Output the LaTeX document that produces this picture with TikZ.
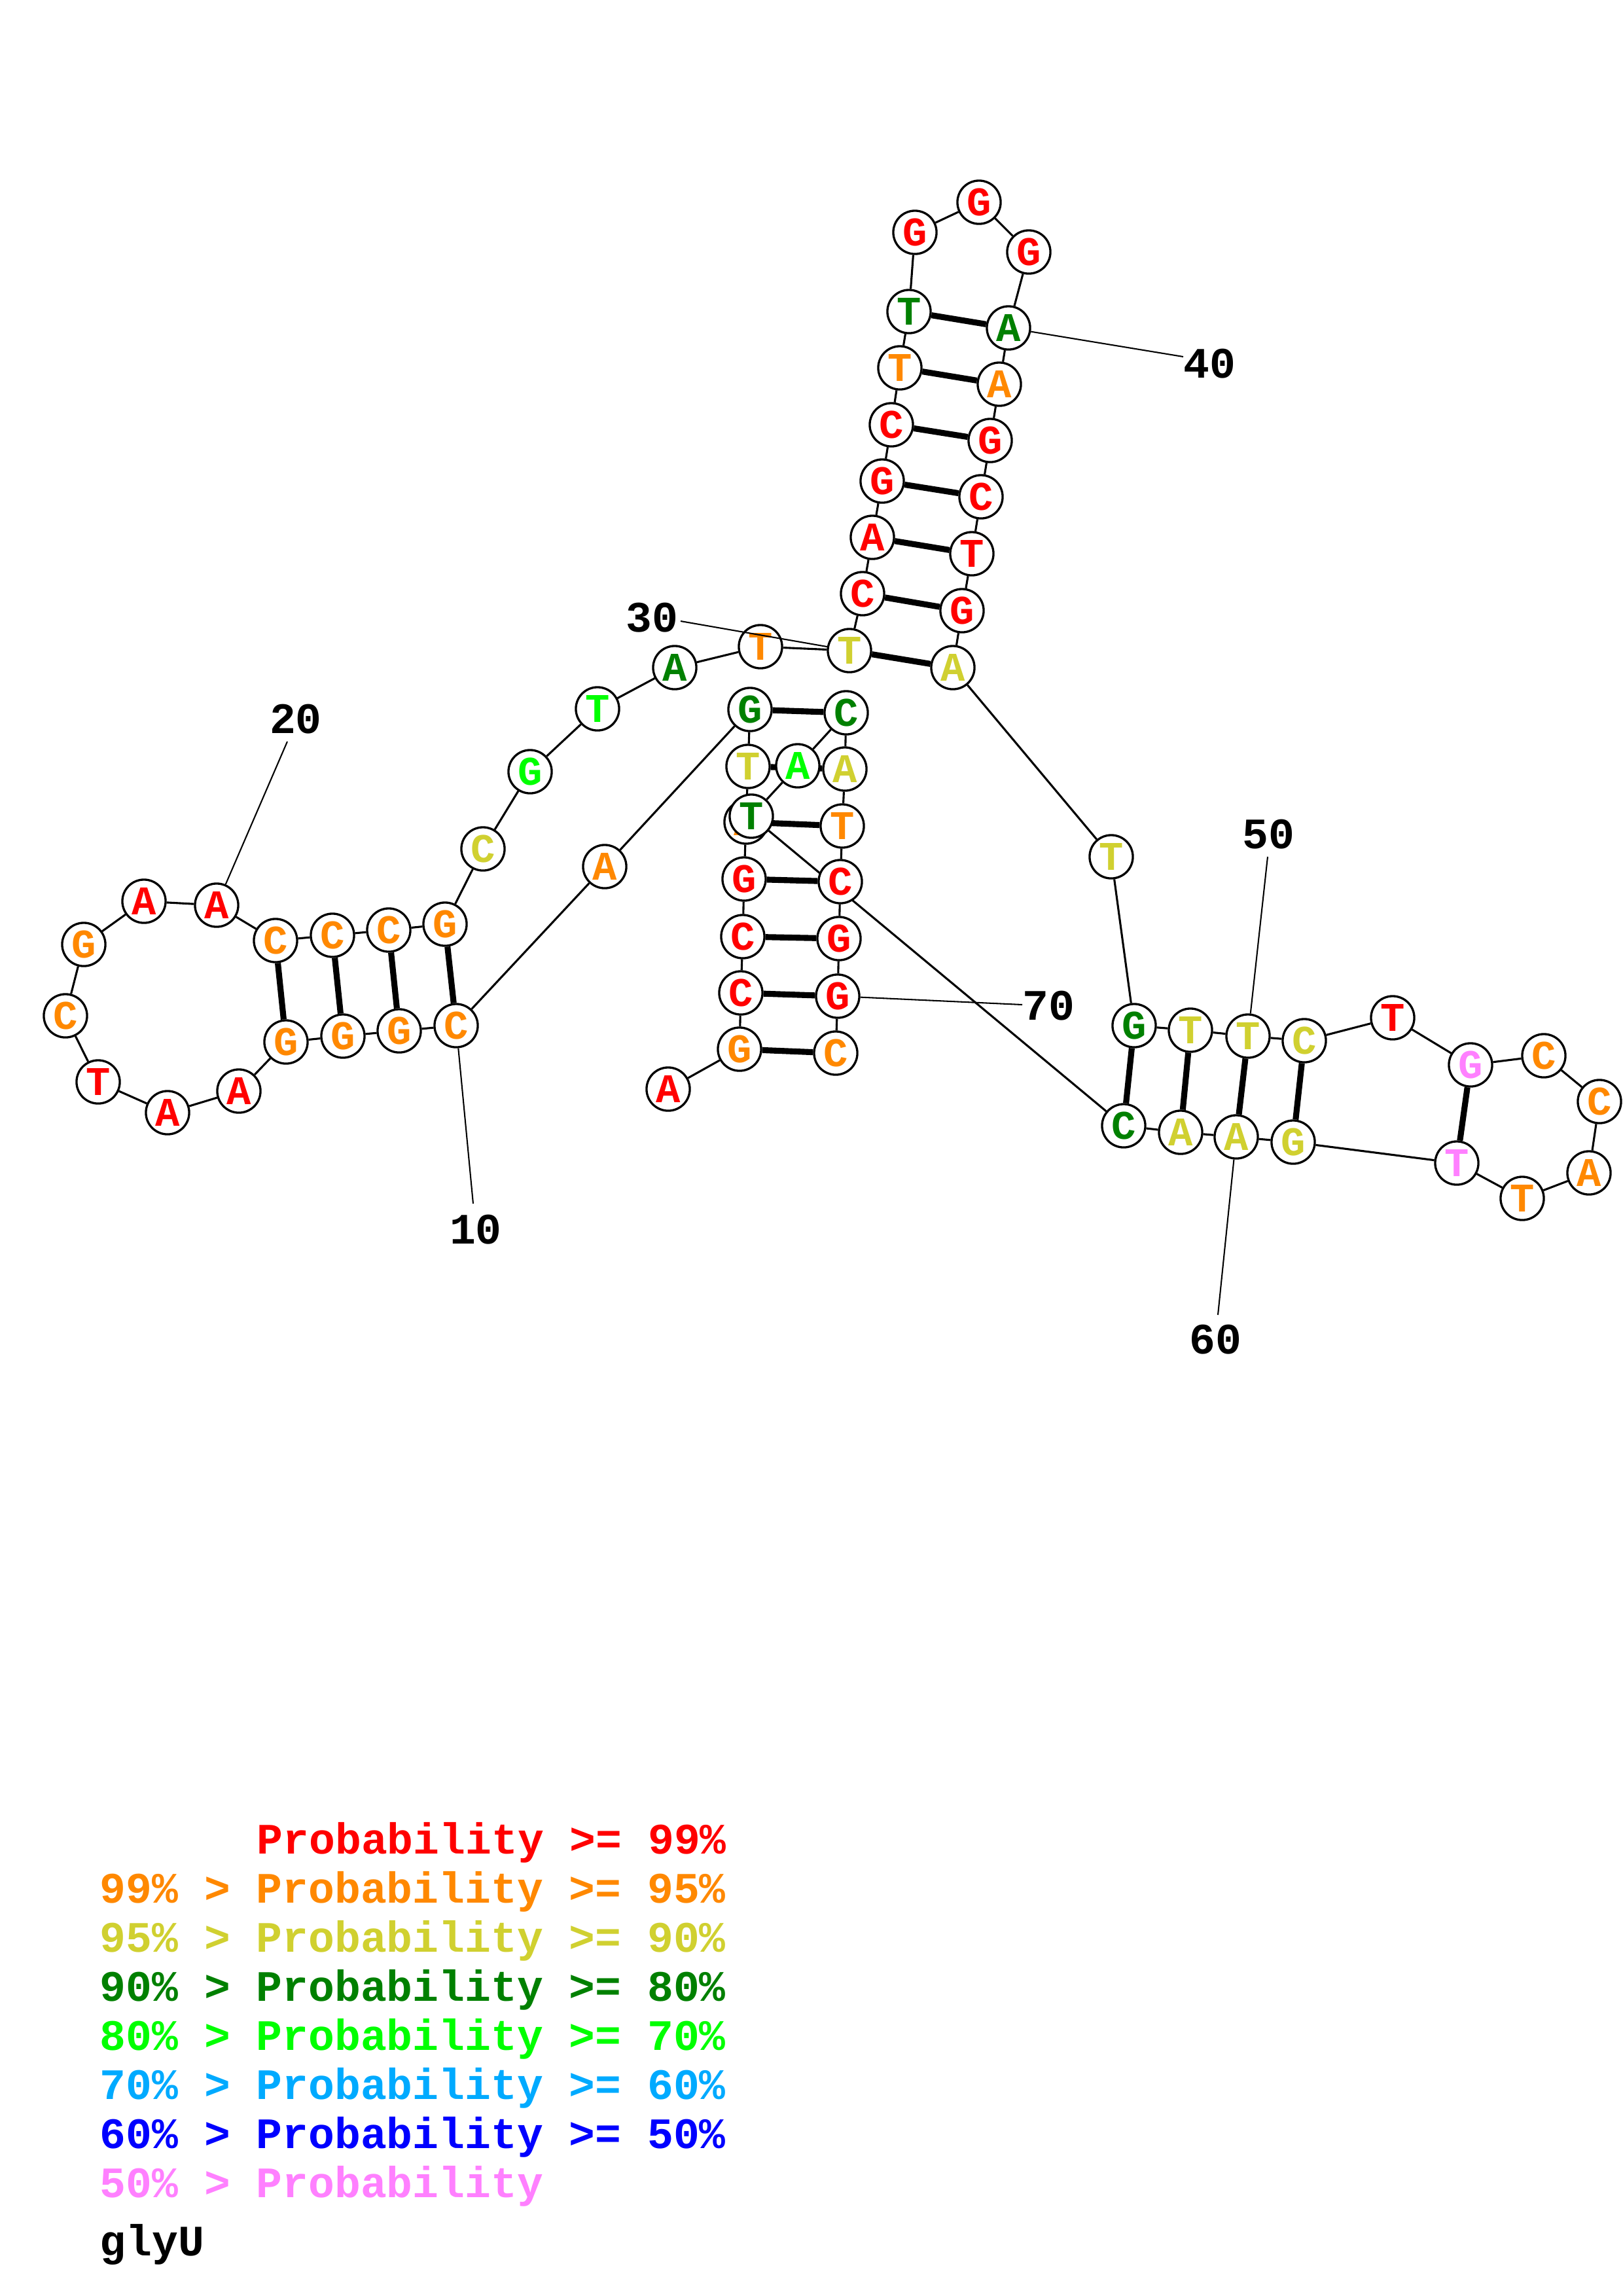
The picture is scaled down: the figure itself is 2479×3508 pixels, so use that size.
\documentclass[tikz,border=0pt]{standalone}
\usepackage{fontspec}
\setmonofont{Liberation Mono}
\usetikzlibrary{positioning, calc}
\pgfdeclarelayer{background}
\pgfsetlayers{background,main}
\definecolor{prob99}{RGB}{255,0,0}
\definecolor{prob95}{RGB}{255,136,0}
\definecolor{prob90}{RGB}{208,208,48}
\definecolor{prob80}{RGB}{0,128,0}
\definecolor{prob70}{RGB}{0,255,0}
\definecolor{prob60}{RGB}{0,170,255}
\definecolor{prob50}{RGB}{0,0,255}
\definecolor{problow}{RGB}{255,128,255}

\begin{document}
\begin{tikzpicture}[x=0.08471mm, y=-0.08471mm,
	nt/.style={circle, draw=black, line width=0.8pt, fill=white, minimum size=5.6mm, inner sep=0pt,
		font=\ttfamily\bfseries\fontsize{15}{15}\selectfont},
	bb/.style={line width=0.75pt},
	bp/.style={line width=2.2pt},
	tick/.style={line width=0.5pt},
	num/.style={font=\ttfamily\bfseries\fontsize{16}{16}\selectfont},
	legend/.style={anchor=base west, inner sep=0pt, font=\ttfamily\bfseries\fontsize{16}{16}\selectfont}]
	
	\useasboundingbox (0,0) rectangle (2479,3508);
	
	% nucleotides
	\foreach \i/\b/\c/\x/\y in {1/A/prob99/1021/1664, 2/G/prob95/1130/1603, 3/C/prob99/1132/1517,
		4/C/prob99/1135/1431, 5/G/prob99/1137/1343, 6/A/prob95/1140/1256, 7/T/prob90/1143/1171,
		8/G/prob80/1146/1084, 9/A/prob95/924/1324, 10/C/prob95/697/1567, 11/G/prob95/610/1575,
		12/G/prob95/524/1583, 13/G/prob95/437/1592, 14/A/prob99/365/1667, 15/A/prob99/256/1700,
		16/T/prob99/150/1653, 17/C/prob95/100/1552, 18/G/prob95/128/1443, 19/A/prob99/220/1377,
		20/A/prob99/331/1383, 21/C/prob95/421/1437, 22/C/prob95/508/1429, 23/C/prob95/594/1421,
		24/G/prob95/680/1412, 25/C/prob90/738/1297, 26/G/prob70/810/1179, 27/T/prob70/913/1083,
		28/A/prob80/1031/1020, 29/T/prob95/1162/988, 30/T/prob90/1298/994, 31/C/prob99/1318/907,
		32/A/prob99/1333/821, 33/G/prob99/1348/735, 34/C/prob99/1362/649, 35/T/prob95/1375/562,
		36/T/prob80/1389/476, 37/G/prob99/1398/355, 38/G/prob99/1496/309, 39/G/prob99/1572/385,
		40/A/prob80/1541/501, 41/A/prob95/1527/587, 42/G/prob99/1513/673, 43/C/prob99/1499/759,
		44/T/prob99/1485/846, 45/G/prob99/1470/933, 46/A/prob90/1456/1020, 47/T/prob90/1698/1309,
		48/G/prob80/1733/1567, 49/T/prob90/1819/1574, 50/T/prob90/1907/1583, 51/C/prob90/1993/1590,
		52/T/prob99/2128/1555, 53/G/problow/2247/1627, 54/C/prob95/2359/1613, 55/C/prob95/2444/1683,
		56/A/prob95/2428/1792, 57/T/prob95/2326/1831, 58/T/problow/2226/1777, 59/G/prob90/1976/1745,
		60/A/prob90/1889/1737, 61/A/prob90/1804/1730, 62/C/prob80/1717/1720, 63/T/prob80/1148/1247,
		64/A/prob70/1219/1170, 65/C/prob80/1293/1089, 66/A/prob90/1291/1175, 67/T/prob95/1287/1262,
		68/C/prob99/1284/1347, 69/G/prob99/1282/1434, 70/G/prob99/1280/1522, 71/C/prob95/1277/1609}
	\node[nt, text=\c] (n\i) at (\x,\y) {\b};
	
	\begin{pgfonlayer}{background}
		% backbone
		\foreach \i [remember=\i as \last (initially 1)] in {2,...,71}
		\draw[bb] (n\last) -- (n\i);
		% base pairs
		\foreach \p/\q in {2/71, 3/70, 4/69, 5/68, 6/67, 7/66, 8/65, 10/24, 11/23, 12/22, 13/21,
			30/46, 31/45, 32/44, 33/43, 34/42, 35/41, 36/40, 48/62, 49/61, 50/60, 51/59, 53/58}
		\draw[bp] (n\p) -- (n\q);
	\end{pgfonlayer}
	
	% position labels
	\foreach \i/\tx/\ty/\lx/\ly in {10/723/1839/727/1879, 20/439/1133/452/1099, 30/1040/949/996/944,
		40/1808/545/1848/556, 50/1937/1309/1938/1275, 60/1861/2009/1857/2047, 70/1562/1535/1602/1537}{
		\coordinate (t\i) at (\tx,\ty);
		\node[num] (l\i) at (\lx,\ly) {\i};
		\draw[tick] (n\i) -- (t\i);
	}
	
	% legend
	\node[legend, text=prob99] (leg1) at (392,2832) {Probability >= 99\%};
	\node[legend, text=prob95] (leg2) at (152,2907) {99\% > Probability >= 95\%};
	\node[legend, text=prob90] (leg3) at (152,2982) {95\% > Probability >= 90\%};
	\node[legend, text=prob80] (leg4) at (152,3057) {90\% > Probability >= 80\%};
	\node[legend, text=prob70] (leg5) at (152,3132) {80\% > Probability >= 70\%};
	\node[legend, text=prob60] (leg6) at (152,3207) {70\% > Probability >= 60\%};
	\node[legend, text=prob50] (leg7) at (152,3282) {60\% > Probability >= 50\%};
	\node[legend, text=problow] (leg8) at (152,3357) {50\% > Probability};
	\node[legend] (name) at (152,3446) {glyU};
\end{tikzpicture}
\end{document}
